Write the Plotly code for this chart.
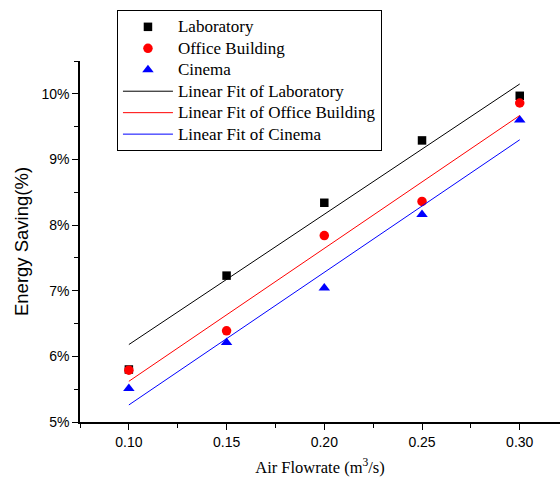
import plotly.graph_objects as go

# ---- data ----
flowrate = [0.10, 0.15, 0.20, 0.25, 0.30]
laboratory = [5.80, 7.23, 8.34, 9.29, 9.97]
office = [5.79, 6.39, 7.84, 8.36, 9.86]
cinema = [5.51, 6.21, 7.04, 8.16, 9.60]

fit_x = [0.10, 0.30]
lab_fit = [6.18, 10.15]
office_fit = [5.62, 9.67]
cinema_fit = [5.26, 9.30]

x_ticks = [0.10, 0.15, 0.20, 0.25, 0.30]
x_tick_text = ["0.10", "0.15", "0.20", "0.25", "0.30"]
y_ticks = [5, 6, 7, 8, 9, 10]
y_tick_text = ["5%", "6%", "7%", "8%", "9%", "10%"]

names = ["Laboratory", "Office Building", "Cinema",
         "Linear Fit of Laboratory", "Linear Fit of Office Building", "Linear Fit of Cinema"]


def lg(t):
    return '<span style="font-size:17px">' + t + '</span>'


fig = go.Figure()

fig.add_trace(go.Scatter(x=flowrate, y=laboratory, mode="markers", name=lg(names[0]),
                         marker=dict(symbol="square", size=8.5, color="black")))
fig.add_trace(go.Scatter(x=flowrate, y=office, mode="markers", name=lg(names[1]),
                         marker=dict(symbol="circle", size=9.5, color="red")))
fig.add_trace(go.Scatter(x=flowrate, y=cinema, mode="markers", name=lg(names[2]),
                         marker=dict(symbol="triangle-up", size=10, color="blue")))
fig.add_trace(go.Scatter(x=fit_x, y=lab_fit, mode="lines", name=lg(names[3]),
                         line=dict(color="black", width=1)))
fig.add_trace(go.Scatter(x=fit_x, y=office_fit, mode="lines", name=lg(names[4]),
                         line=dict(color="red", width=1)))
fig.add_trace(go.Scatter(x=fit_x, y=cinema_fit, mode="lines", name=lg(names[5]),
                         line=dict(color="blue", width=1)))

fig.update_layout(
    width=560, height=480,
    margin=dict(l=80, r=0, t=61, b=58),
    paper_bgcolor="white", plot_bgcolor="white",
    font=dict(family="Liberation Sans, Arial", size=14, color="black"),
    legend=dict(
        x=0.077, y=1.141, xanchor="left", yanchor="top",
        bgcolor="white", bordercolor="black", borderwidth=1,
        font=dict(family="Liberation Serif, Times New Roman", size=14.2, color="black"),
        tracegroupgap=0, itemwidth=50,
    ),
    xaxis=dict(
        range=[0.075, 0.3206],
        tickvals=x_ticks, ticktext=x_tick_text,
        showgrid=False, zeroline=False,
        showline=True, linecolor="black", linewidth=1.5,
        ticks="outside", ticklen=6, tickwidth=1.2, tickcolor="black",
        minor=dict(dtick=0.025, tick0=0.075, ticks="outside", ticklen=4, tickcolor="black", tickwidth=1.2),
        title=dict(text="Air Flowrate (m<sup>3</sup>/s)", standoff=13,
                   font=dict(family="Liberation Serif, Times New Roman", size=16.5)),
    ),
    yaxis=dict(
        range=[5, 10.5],
        tickvals=y_ticks, ticktext=y_tick_text,
        showgrid=False, zeroline=False,
        showline=True, linecolor="black", linewidth=1.5,
        ticks="outside", ticklen=6, tickwidth=1.2, tickcolor="black",
        minor=dict(dtick=0.5, tick0=5, ticks="outside", ticklen=4, tickcolor="black", tickwidth=1.2),
        title=dict(text="Energy Saving(%)", standoff=8,
                   font=dict(family="Liberation Sans, Arial", size=18.5)),
    ),
)

fig.write_html("out.html")
